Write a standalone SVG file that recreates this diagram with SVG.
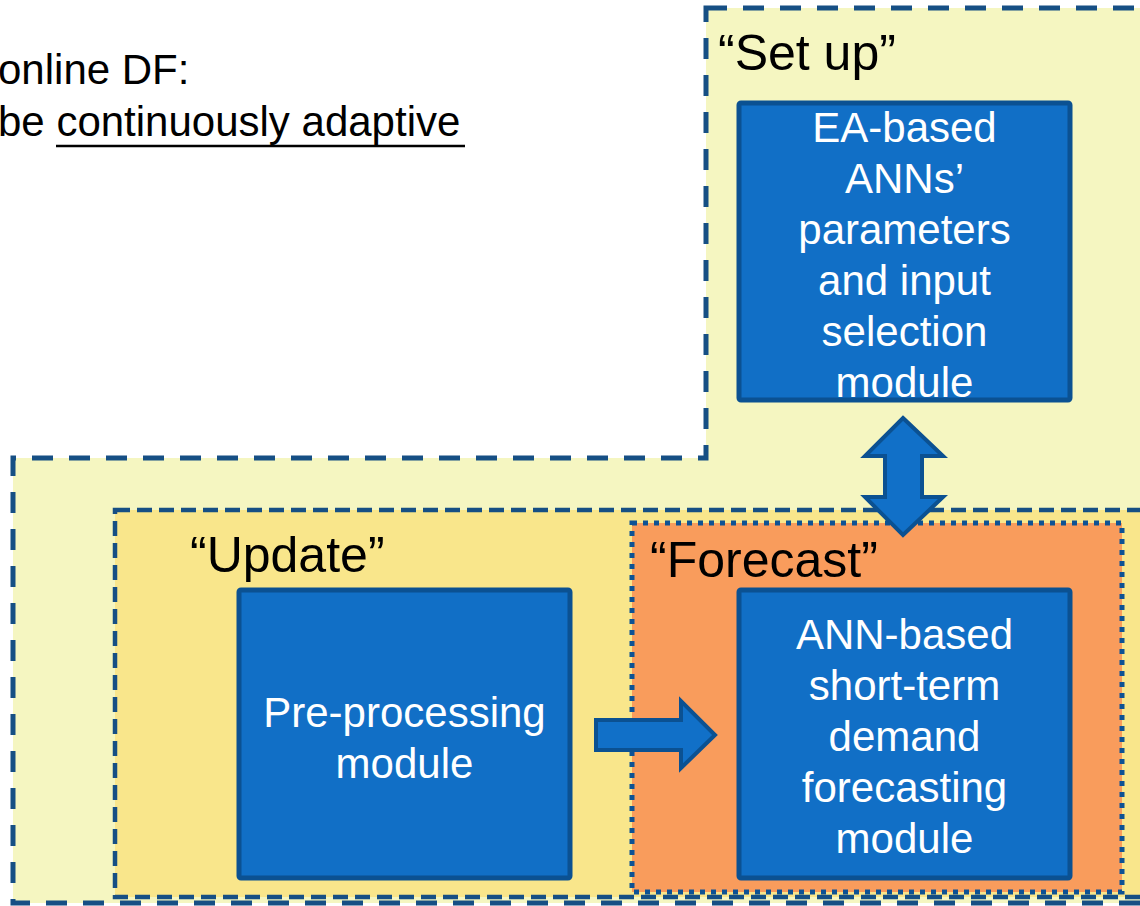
<svg xmlns="http://www.w3.org/2000/svg" width="1140" height="906" viewBox="0 0 1140 906">
  <style>
    .txt { font-family: "Liberation Sans", Arial, sans-serif; fill: #000000; }
    .lbl { font-family: "Liberation Sans", Arial, sans-serif; font-size: 50px; fill: #000000; }
    .btxt { font-family: "Liberation Sans", Arial, sans-serif; font-size: 42px; fill: #FFFFFF; text-anchor: middle; }
    .box { fill: #116FC6; stroke: #0B5192; stroke-width: 5; }
    .arrow { fill: #1170C8; stroke: #0B5192; stroke-width: 4; stroke-linejoin: miter; }
  </style>
  <rect x="0" y="0" width="1140" height="906" fill="#FFFFFF"/>

  <g id="intro-text">
    <text class="txt" x="-2" y="84" font-size="42">online DF:</text>
    <text class="txt" x="-2" y="136" font-size="42">be continuously adaptive</text>
    <line x1="56" y1="146" x2="465" y2="146" stroke="#000000" stroke-width="2.5"/>
  </g>

  <g id="setup-region">
    <path d="M706,8 L1160,8 L1160,903 L13,903 L13,458 L706,458 Z" fill="#F5F6C1" stroke="#164F84" stroke-width="5" stroke-dasharray="21,16"/>
    <text class="lbl" x="718" y="70">“Set up”</text>
  </g>

  <g id="update-region">
    <rect x="115" y="510" width="1045" height="387" fill="#F9E68B" stroke="#164F84" stroke-width="4.5" stroke-dasharray="15,7"/>
    <text class="lbl" x="190" y="572">“Update”</text>
  </g>

  <g id="forecast-region">
    <rect x="632" y="523" width="490" height="369" fill="#F99C5C" stroke="#0E5294" stroke-width="5" stroke-dasharray="5,6"/>
    <text class="lbl" x="650" y="577">“Forecast”</text>
  </g>

  <g id="ea-module">
    <rect class="box" x="739" y="103" width="331" height="297" rx="2"/>
    <text class="btxt" x="904.5" y="142">EA-based</text>
    <text class="btxt" x="904.5" y="193">ANNs’</text>
    <text class="btxt" x="904.5" y="244">parameters</text>
    <text class="btxt" x="904.5" y="295">and input</text>
    <text class="btxt" x="904.5" y="346">selection</text>
    <text class="btxt" x="904.5" y="397">module</text>
  </g>

  <g id="preprocessing-module">
    <rect class="box" x="239" y="590" width="331" height="288" rx="2"/>
    <text class="btxt" x="404.5" y="727">Pre-processing</text>
    <text class="btxt" x="404.5" y="778">module</text>
  </g>

  <g id="ann-module">
    <rect class="box" x="739" y="590" width="331" height="288" rx="2"/>
    <text class="btxt" x="904.5" y="649">ANN-based</text>
    <text class="btxt" x="904.5" y="700">short-term</text>
    <text class="btxt" x="904.5" y="751">demand</text>
    <text class="btxt" x="904.5" y="802">forecasting</text>
    <text class="btxt" x="904.5" y="853">module</text>
  </g>

  <g id="connectors">
    <path class="arrow" d="M903,418 L943,456 L922,456 L922,497 L943,497 L903,535 L865,497 L885,497 L885,456 L865,456 Z"/>
    <path class="arrow" d="M596,720 L681,720 L681,701 L715,735 L681,768 L681,750 L596,750 Z"/>
  </g>
</svg>
